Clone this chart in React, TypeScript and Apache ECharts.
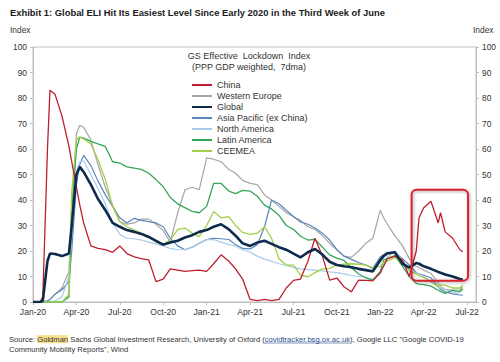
import React, { useEffect, useRef } from 'react';
import * as echarts from 'echarts';

const dates = [
  '2020-01-01', '2020-01-16', '2020-01-22', '2020-02-01', '2020-02-06', '2020-02-16', '2020-03-01', '2020-03-16',
  '2020-03-22', '2020-04-01', '2020-04-08', '2020-04-16', '2020-05-01', '2020-05-16', '2020-06-01', '2020-06-16',
  '2020-07-01', '2020-07-16', '2020-08-01', '2020-08-16', '2020-09-01', '2020-09-16', '2020-10-01', '2020-10-16',
  '2020-11-01', '2020-11-16', '2020-12-01', '2020-12-16', '2021-01-01', '2021-01-16', '2021-02-01', '2021-02-16',
  '2021-03-01', '2021-03-16', '2021-04-01', '2021-04-16', '2021-05-01', '2021-05-16', '2021-06-01', '2021-06-16',
  '2021-07-01', '2021-07-16', '2021-08-01', '2021-08-16', '2021-09-01', '2021-09-16', '2021-10-01', '2021-10-16',
  '2021-11-01', '2021-11-16', '2021-12-01', '2021-12-16', '2022-01-01', '2022-01-08', '2022-01-16', '2022-02-01',
  '2022-02-16', '2022-03-01', '2022-03-16', '2022-03-22', '2022-04-01', '2022-04-16', '2022-05-01', '2022-05-06',
  '2022-05-16', '2022-06-01', '2022-06-16', '2022-06-22',
];

const china = [
  0, 0, 2, 60, 83, 81.5, 73, 61, 55, 45, 38, 31, 22, 21, 20.5, 19.5,
  22, 19, 17.7, 17, 16.5, 8, 9, 13, 12.5, 12, 12.3, 12.5, 12, 15, 18.5, 16,
  13, 9, 1, 0.5, 1, 0.5, 1, 5.5, 8.5, 9, 16, 25, 18, 8.6, 9.4, 6,
  4, 8.6, 8.5, 8.3, 11.5, 14, 17, 18, 16.5, 10, 20, 33, 37, 39.5,
  31, 35, 27.5, 25, 20.5, 19.7,
];
const westernEurope = [
  0, 0, 0, 0.5, 1, 3, 5.5, 12, 32, 66, 69.3, 68.5, 63.5, 54, 45, 38,
  31.5, 30.5, 31, 32.5, 32.5, 30.5, 28, 23.5, 35, 44, 45, 44, 56.5, 56, 55, 52,
  50.5, 47.7, 46.5, 46, 42, 40, 37.5, 35, 33.4, 32, 29.5, 28.5, 26, 23, 20.5, 18,
  17.5, 20, 23, 25, 36, 33, 30.5, 26, 22, 17, 14, 13.5, 12.5, 11.2,
  7.5, 6, 5, 4.7, 4.7, 6,
];
const globalIdx = [
  0, 0, 0.5, 16, 19, 18.8, 18, 19, 30, 50, 53, 51, 46, 40.5, 36, 31,
  29.5, 28.2, 27.5, 26.7, 25.5, 24, 22.5, 23.3, 24, 25.3, 26.2, 27.5, 28.2, 29.5, 30.5, 28.5,
  26, 23, 22, 23.3, 24, 22.8, 21.5, 20.5, 19, 17.5, 19.5, 20.8, 18.6, 15.8, 14.5, 14,
  13.6, 13, 12.5, 12, 16.4, 18, 19, 19.5, 15, 13.5, 15.3, 15, 14, 13,
  11.8, 11.5, 10.8, 10, 9, 8.7,
];
const asiaPacific = [
  0, 0, 0, 0.5, 1, 3, 4.8, 8, 20, 46, 54, 57.5, 53.5, 47.5, 42, 37.5,
  33, 31, 32.8, 32, 31.5, 31, 29.5, 25, 22, 20.5, 21.5, 23, 24.5, 25, 24.8, 24.5,
  22.5, 21, 20.8, 22.5, 29.5, 40, 38.5, 36, 33.5, 31.4, 30.5, 29, 27, 24.3, 20.5, 18,
  16.7, 15.5, 14.5, 13.2, 17.7, 18.5, 19.5, 19.5, 17, 14.5, 11.5, 11, 10.5, 9.5,
  6, 5, 4, 3.2, 2.8, 2.7,
];
const northAmerica = [
  0, 0, 0, 0, 0, 0.5, 2, 10, 39, 51, 55, 55.3, 50, 44.5, 38.5, 31,
  26.5, 25, 24.8, 24.3, 23.5, 22.8, 22, 21, 20.5, 20.5, 21.5, 23, 24.5, 24.5, 23.5, 22.5,
  22, 20.5, 19.5, 18, 16.8, 16, 15, 14.3, 13.6, 13, 12.7, 12.5, 12.2, 11.8, 11.5, 11,
  10.4, 10, 9.6, 9, 11, 14.5, 17.5, 20, 16.5, 12, 11.3, 11, 10, 8,
  6, 5.5, 4.8, 4, 2.9, 2.7,
];
const latinAmerica = [
  0, 0, 0, 0, 0, 0, 0, 2, 35, 60, 64.7, 64.3, 63, 62, 61, 55,
  54.5, 53, 52.5, 52, 50.5, 48, 45.2, 41, 38.5, 37, 35.5, 35, 37.5, 46.5, 46.5, 43.5,
  42.5, 43.8, 43.5, 41.5, 38, 36.5, 34, 30, 28.5, 25.8, 24.3, 24.6, 21.5, 18.5, 17.2, 16.3,
  13.5, 11, 9.5, 8.6, 12, 16.5, 17, 18.2, 14, 10, 7.3, 7, 6.8, 6.2,
  4.6, 4.2, 3.4, 4.6, 4, 5.2,
];
const ceemea = [
  0, 0, 0, 0, 0, 0, 0, 3, 43, 63.5, 64.7, 64, 62, 56, 48, 37.5,
  31.5, 29.5, 28.2, 27, 25.8, 23.5, 22.5, 24.3, 28.5, 29, 27, 25.6, 30, 35.5, 33, 33.5,
  30, 27.3, 26.5, 27, 29.5, 25, 17, 14.5, 14.5, 10.5, 9.9, 11.5, 13, 13.2, 14.5, 14.8,
  15, 14.8, 14.5, 13.5, 14, 15.8, 16, 17.5, 15, 12.5, 11, 10.3, 9.6, 8,
  6, 6.8, 6.5, 5.5, 5.5, 6.8,
];

const tickLabels = ['Jan-20', 'Apr-20', 'Jul-20', 'Oct-20', 'Jan-21', 'Apr-21', 'Jul-21', 'Oct-21', 'Jan-22', 'Apr-22', 'Jul-22'];
const xRange = ['2020-01-01', '2022-07-20'];
// annotation box: [start date, top value], [end date, bottom value]
const boxStart: [string, number] = ['2022-03-06', 44];
const boxEnd: [string, number] = ['2022-07-03', 8.3];

const seriesDefs = [
  { name: 'Western Europe', data: westernEurope, color: '#a6a6a6', width: 1.2 },
  { name: 'Asia Pacific (ex China)', data: asiaPacific, color: '#5b87bb', width: 1.2 },
  { name: 'North America', data: northAmerica, color: '#a8cbea', width: 1.2 },
  { name: 'Latin America', data: latinAmerica, color: '#35a558', width: 1.3 },
  { name: 'CEEMEA', data: ceemea, color: '#a2cf48', width: 1.3 },
  { name: 'China', data: china, color: '#be1e2d', width: 1.3 },
  { name: 'Global', data: globalIdx, color: '#0e2a4d', width: 2.6 },
];
const legendOrder = ['China', 'Western Europe', 'Global', 'Asia Pacific (ex China)', 'North America', 'Latin America', 'CEEMEA'];

function toMonthIndex(d: string): number {
  const [y, m, day] = d.split('-').map(Number);
  const dim = new Date(y, m, 0).getDate();
  return (y - 2020) * 12 + (m - 1) + (day - 1) / dim;
}

const FONT = 'Liberation Sans, Arial, sans-serif';
const TXT = '#333333';
const AXIS = '#bfbfbf';

export default function App() {
  const ref = useRef<HTMLDivElement>(null);
  useEffect(() => {
    if (!ref.current) return;
    const chart = echarts.init(ref.current, undefined, { renderer: 'svg' });
    const xs = dates.map(toMonthIndex);

    const srcPrefix = 'Source: Goldman Sachs Global Investment Research, University of Oxford (';
    const link = 'covidtracker.bsg.ox.ac.uk';
    const srcFont = `7.6px ${FONT}`;
    const ctx = document.createElement('canvas').getContext('2d');
    let preW = 0, linkW = 0;
    if (ctx) {
      ctx.font = srcFont;
      preW = ctx.measureText(srcPrefix).width;
      linkW = ctx.measureText(link).width;
    }

    chart.setOption({
      animation: false,
      textStyle: { fontFamily: FONT },
      grid: { left: 33, right: 24, top: 47, bottom: 60, show: true, borderColor: AXIS, borderWidth: 1 },
      legend: {
        data: legendOrder,
        orient: 'vertical',
        left: 186,
        top: 74.5,
        itemWidth: 20,
        itemHeight: 2,
        itemGap: 0,
        textStyle: { fontSize: 9, color: TXT, lineHeight: 11, fontFamily: FONT },
      },
      xAxis: {
        type: 'value',
        min: toMonthIndex(xRange[0]),
        max: toMonthIndex(xRange[1]),
        interval: 3,
        axisLine: { lineStyle: { color: AXIS } },
        axisTick: { show: true, length: 3, lineStyle: { color: AXIS } },
        splitLine: { show: false },
        axisLabel: {
          fontSize: 8.6,
          color: TXT,
          margin: 5,
          showMaxLabel: false,
          formatter: (v: number) => {
            const k = v / 3;
            if (Math.abs(k - Math.round(k)) > 1e-6) return '';
            return tickLabels[Math.round(k)] || '';
          },
        },
      },
      yAxis: [
        {
          type: 'value', min: 0, max: 100, interval: 10, position: 'left',
          axisLine: { show: true, lineStyle: { color: AXIS } },
          axisTick: { show: true, length: 3, lineStyle: { color: AXIS } },
          splitLine: { show: false },
          axisLabel: { fontSize: 8.4, color: TXT, margin: 6 },
        },
        {
          type: 'value', min: 0, max: 100, interval: 10, position: 'right',
          axisLine: { show: true, lineStyle: { color: AXIS } },
          axisTick: { show: true, length: 3, lineStyle: { color: AXIS } },
          splitLine: { show: false },
          axisLabel: { fontSize: 8.4, color: TXT, margin: 6 },
        },
      ],
      series: seriesDefs.map((s) => ({
        name: s.name,
        type: 'line',
        symbol: 'none',
        yAxisIndex: 0,
        data: s.data.map((v, i) => [xs[i], v]),
        lineStyle: { color: s.color, width: s.width },
        itemStyle: { color: s.color },
        color: s.color,
      })),
    });

    const p1 = chart.convertToPixel({ gridIndex: 0 }, [toMonthIndex(boxStart[0]), boxStart[1]]) as number[];
    const p2 = chart.convertToPixel({ gridIndex: 0 }, [toMonthIndex(boxEnd[0]), boxEnd[1]]) as number[];
    chart.setOption({
      graphic: [
        {
          type: 'text', x: 10, y: 8,
          style: { text: 'Exhibit 1: Global ELI Hit Its Easiest Level Since Early 2020 in the Third Week of June', font: `bold 9.4px ${FONT}`, fill: '#1a1a1a' },
        },
        { type: 'text', x: 10, y: 26, style: { text: 'Index', font: `8.4px ${FONT}`, fill: TXT } },
        { type: 'text', x: 473, y: 26, style: { text: 'Index', font: `8.4px ${FONT}`, fill: TXT } },
        {
          type: 'text', x: 249, y: 51,
          style: { text: 'GS Effective  Lockdown  Index\n(PPP GDP weighted,  7dma)', font: `9px ${FONT}`, fill: TXT, align: 'center', lineHeight: 10.7 },
        },
        {
          type: 'text', x: 9, y: 334,
          style: {
            text: 'Source: {hl|Goldman} Sachs Global Investment Research, University of Oxford ({lk|' + link + '}), Google LLC "Google COVID-19\nCommunity Mobility Reports", Wind',
            font: srcFont, fill: TXT, lineHeight: 10.3,
            rich: {
              hl: { backgroundColor: '#f7df8c', font: srcFont, fill: TXT },
              lk: { font: srcFont, fill: '#2a4c8c' },
            },
          },
        },
        {
          type: 'line', shape: { x1: 9 + preW, y1: 343, x2: 9 + preW + linkW, y2: 343 },
          style: { stroke: '#2a4c8c', lineWidth: 0.6 },
        },
        {
          type: 'rect', z: 100,
          shape: { x: p1[0], y: p1[1], width: p2[0] - p1[0], height: p2[1] - p1[1], r: 5 },
          style: { fill: 'none', stroke: '#d9222e', lineWidth: 2, shadowBlur: 3, shadowColor: 'rgba(0,0,0,0.35)', shadowOffsetX: 1, shadowOffsetY: 1 },
        },
      ],
    });

    return () => chart.dispose();
  }, []);
  return <div ref={ref} style={{ position: 'absolute', left: 0, top: 0, width: 500, height: 362 }} />;
}
